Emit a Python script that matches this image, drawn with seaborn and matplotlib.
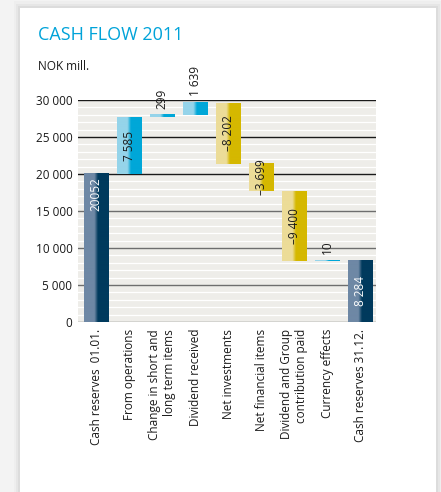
import matplotlib.pyplot as plt
import matplotlib.patches as mpatches
import numpy as np
import pandas as pd
import seaborn as sns
from matplotlib.colors import to_rgb
from matplotlib.ticker import FuncFormatter

# Data (NOK mill.)
categories = ["Cash reserves  01.01.", "From operations",
              "Change in short and\nlong term items", "Dividend received",
              "Net investments", "Net financial items",
              "Dividend and Group\ncontribution paid", "Currency effects",
              "Cash reserves 31.12."]
changes = [20052, 7585, 299, 1639, -8202, -3699, -9400, 10, 8284]
kinds = ["total", "up", "up", "up", "down", "down", "down", "up", "total"]
value_labels = ["20052", "7 585", "299", "1 639", "\u20138 202", "\u20133 699",
                "\u20139 400", "10", "8 284"]
y_ticks = [0, 5000, 10000, 15000, 20000, 25000, 30000]

# waterfall bottoms / heights
bottoms, heights = [], []
running = 0
for c, k in zip(changes, kinds):
    if k == "total":
        bottoms.append(0)
        heights.append(c)
        running = c
    else:
        bottoms.append(running + min(c, 0))
        heights.append(abs(c))
        running += c

df = pd.DataFrame({"category": categories, "height": heights, "bottom": bottoms, "kind": kinds})

gradients = {
    "total": ("#6e88a5", "#003a5d"),
    "up": ("#95d4ea", "#00a7d8"),
    "down": ("#ecdc98", "#d5b800"),
}


def gradient(light, dark):
    l, d = np.array(to_rgb(light)), np.array(to_rgb(dark))
    t = np.linspace(0, 1, 100)
    w = np.clip((t - 0.42) / 0.14, 0, 1)[:, None]
    return (l * (1 - w) + d * w)[None, :, :]


plt.rcParams['font.family'] = ['Open Sans', 'DejaVu Sans']

fig = plt.figure(figsize=(4.41, 4.92), dpi=100, facecolor="#f3f3f3")
# card with soft shadow
for i, a in enumerate([0.02, 0.03, 0.04]):
    pad = (3 - i) * 2 / 441
    fig.patches.append(mpatches.Rectangle((20 / 441 - pad, 0), 416 / 441 + 2 * pad, 1 - 8 / 492 + pad,
                                          transform=fig.transFigure, facecolor="black", alpha=a,
                                          edgecolor="none", zorder=-3))
fig.patches.append(mpatches.Rectangle((20 / 441, 0), 416 / 441, 1 - 8 / 492, transform=fig.transFigure,
                                      facecolor="white", edgecolor="none", zorder=-2))

ax = fig.add_axes([78 / 441, 1 - 322 / 492, 298 / 441, 222 / 492])
ax.set_facecolor("#eeede9")

sns.barplot(data=df, x="category", y="height", bottom=df["bottom"].values, width=0.73,
            color="gray", ax=ax, zorder=3)

for patch, kind in zip(ax.patches, kinds):
    x0, y0 = patch.get_x(), patch.get_y()
    w, h = patch.get_width(), patch.get_height()
    ax.imshow(gradient(*gradients[kind]), extent=(x0, x0 + w, y0, y0 + h),
              aspect="auto", interpolation="bilinear", zorder=3)
    patch.set_visible(False)

# value labels
for i, (b, h, lab) in enumerate(zip(bottoms, heights, value_labels)):
    if kinds[i] == "total":
        color = "white"
    else:
        color = "#1a1a1a"
    if h < 2000:
        ax.text(i, b + h + 900, lab, rotation=90, ha="center", va="bottom", fontsize=8.5, color="#1a1a1a")
    elif i == 0:
        ax.text(i, b + h - 500, lab, rotation=90, ha="center", va="top", fontsize=8.5, color=color)
    else:
        ax.text(i, b + h / 2, lab, rotation=90, ha="center", va="center", fontsize=8.5, color=color)

# grid lines
for v in range(1000, 30000, 1000):
    if v % 5000:
        ax.axhline(v, color="white", lw=0.9, zorder=1)
for v in y_ticks:
    ax.axhline(v, color="#1a1a1a" if v >= 20000 else "#6e6e6e", lw=1.0, zorder=2)

ax.set_xlim(-0.55, 8.48)
ax.set_ylim(0, 30000)
ax.set_yticks(y_ticks)
ax.yaxis.set_major_formatter(FuncFormatter(lambda v, p: f"{int(v):,}".replace(",", " ")))
for s in ax.spines.values():
    s.set_visible(False)
ax.tick_params(axis="both", length=0, labelsize=8.5, colors="#1a1a1a")
ax.tick_params(axis="y", pad=4)
ax.tick_params(axis="x", pad=5)
ax.set_xlabel("")
ax.set_ylabel("")
for t in ax.get_xticklabels():
    t.set_rotation(90)
    t.set_ha("center")
    t.set_va("top")
    t.set_multialignment("right")

fig.text(38 / 441, 1 - 40 / 492, "CASH FLOW 2011", color="#00a3d9", fontsize=13, va="baseline")
fig.text(38 / 441, 1 - 70 / 492, "NOK mill.", color="#1a1a1a", fontsize=8.5, va="baseline")

fig.savefig("out.png", dpi=100, facecolor=fig.get_facecolor())
